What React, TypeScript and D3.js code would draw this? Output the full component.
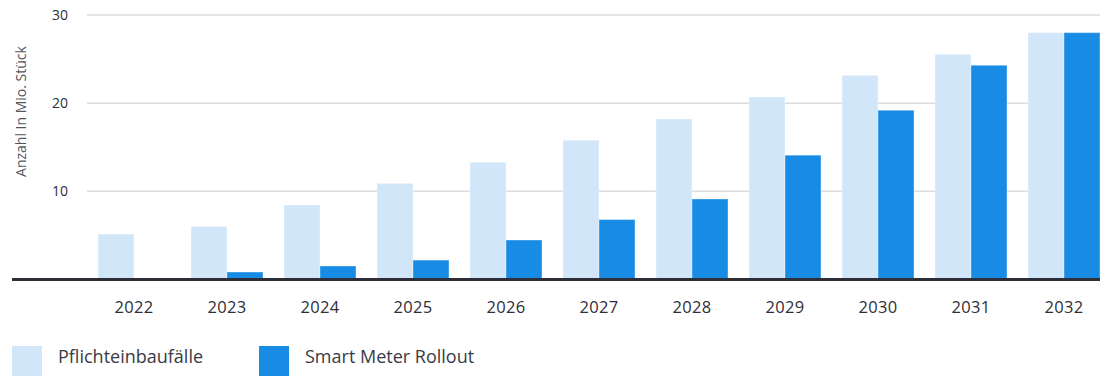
import React from "react";
import * as d3 from "d3";

const years = ["2022", "2023", "2024", "2025", "2026", "2027", "2028", "2029", "2030", "2031", "2032"];
const pflicht = [5.15, 6.0, 8.45, 10.9, 13.3, 15.8, 18.2, 20.7, 23.15, 25.55, 28.0];
const rollout = [0.05, 0.85, 1.53, 2.2, 4.48, 6.8, 9.13, 14.1, 19.2, 24.3, 28.0];
const yTicks = [10, 20, 30];
const seriesNames = ["Pflichteinbaufälle", "Smart Meter Rollout"];
const colors = ["#d1e6f8", "#188ce5"];

const W = 1100;
const H = 376;
const font = "'Open Sans', 'Noto Sans', sans-serif";

export default function App() {
  const x = d3.scaleBand<string>().domain(years).range([98, 1100]).paddingInner(0.2262).paddingOuter(0);
  const sub = d3.scaleBand<number>().domain([0, 1]).range([0, x.bandwidth()]).padding(0);
  const y = d3.scaleLinear().domain([0, 30]).range([279.5, 15]);
  const series = [pflicht, rollout];

  return (
    <svg width={W} height={H} style={{ position: "absolute", left: 0, top: 0, display: "block" }}>
      {yTicks.map((t) => (
        <g key={t}>
          <line x1={87} x2={1100} y1={y(t)} y2={y(t)} stroke="#dcdce1" strokeWidth={1.5} />
          <text x={68} y={y(t)} dy="0.35em" textAnchor="end" fontSize={14} fill="#2e2e38" fontFamily={font}>
            {t}
          </text>
        </g>
      ))}
      <text
        transform={`translate(26, 111.5) rotate(-90)`}
        textAnchor="middle"
        fontSize={14}
        fill="#555560"
        fontFamily={font}
      >
        Anzahl In Mio. Stück
      </text>
      {years.map((yr, i) => (
        <g key={yr} transform={`translate(${x(yr)},0)`}>
          {series.map((s, k) => (
            <rect
              key={k}
              x={sub(k)}
              y={y(s[i])}
              width={sub.bandwidth()}
              height={y(0) - y(s[i])}
              fill={colors[k]}
              stroke="#ffffff"
              strokeOpacity={0.35}
              strokeWidth={1}
            />
          ))}
        </g>
      ))}
      <line x1={12} x2={1100} y1={y(0)} y2={y(0)} stroke="#2e2e38" strokeWidth={3} />
      {years.map((yr) => (
        <text
          key={yr}
          x={(x(yr) as number) + x.bandwidth() / 2}
          y={307}
          dy="0.35em"
          textAnchor="middle"
          fontSize={16.5}
          fill="#2e2e38"
          fontFamily={font}
          letterSpacing={0.3}
        >
          {yr}
        </text>
      ))}
      {seriesNames.map((name, k) => (
        <g key={name} transform={`translate(${k === 0 ? 12 : 259},346)`}>
          <rect width={30} height={30} fill={colors[k]} />
          <text x={46} y={10.5} dy="0.35em" fontSize={18} fill="#3a3a45" fontFamily={font}>
            {name}
          </text>
        </g>
      ))}
    </svg>
  );
}
